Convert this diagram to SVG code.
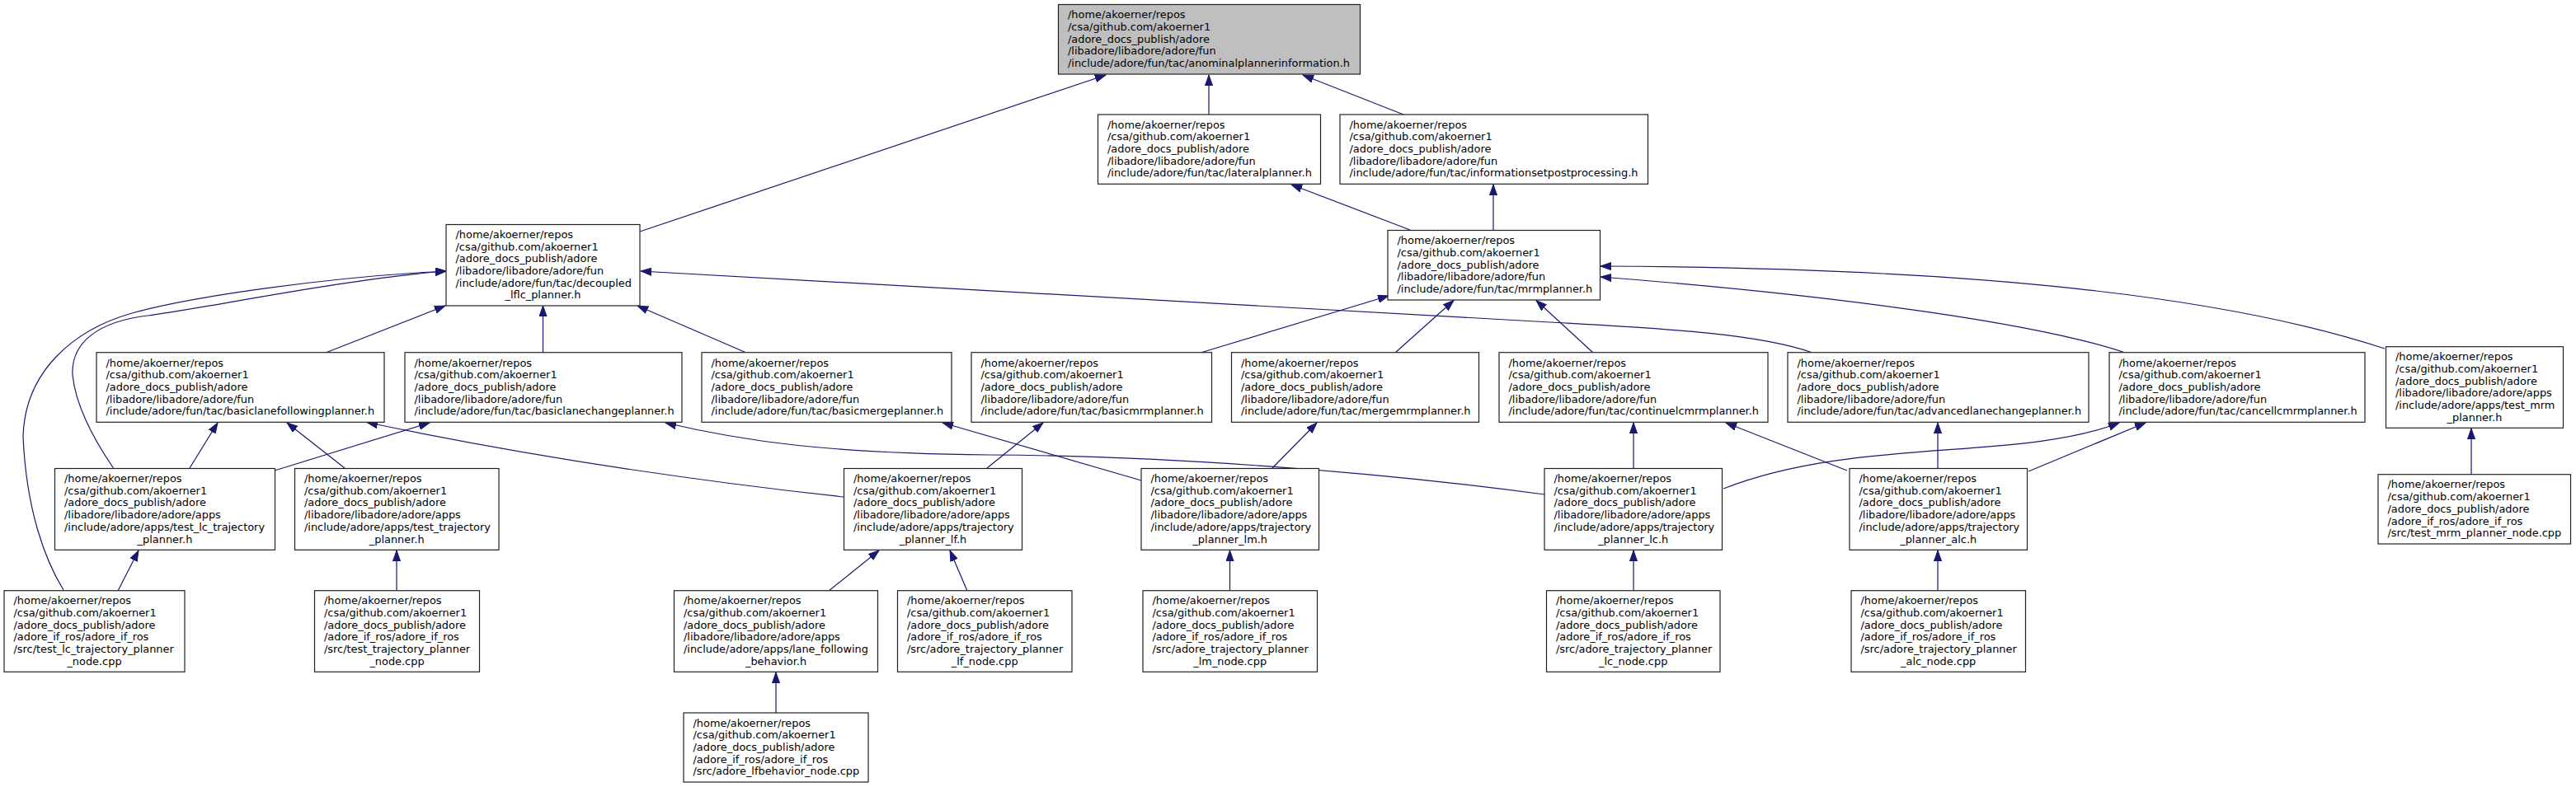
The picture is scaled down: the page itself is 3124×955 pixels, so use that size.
<svg xmlns="http://www.w3.org/2000/svg" width="3124" height="955" viewBox="0 0 3124 955">
<defs>
<style>
.nd rect{fill:#ffffff;stroke:#222;stroke-width:1.2}
.nd.root rect{fill:#bfbfbf}
.nd text{font-family:"DejaVu Sans","Liberation Sans",sans-serif;font-size:12.9px;fill:#000}
.c{text-anchor:middle}
#edges path{fill:none;stroke:#191970;stroke-width:1.2;marker-end:url(#ah)}
</style>
<marker id="ah" markerUnits="userSpaceOnUse" markerWidth="14" markerHeight="10" refX="13" refY="5" orient="auto">
<path d="M0,0.4 L13,5 L0,9.6 z" fill="#191970" stroke="#191970" stroke-width="1"/>
</marker>
</defs>
<rect x="0" y="0" width="3124" height="955" fill="#ffffff"/>
<g id="edges">
<path d="M776,281 L1341,91"/>
<path d="M1466,139 L1466,91"/>
<path d="M1702,139 L1580,91"/>
<path d="M1710,279 L1566,224"/>
<path d="M1811,279 L1811,224"/>
<path d="M395,428 L540,371"/>
<path d="M658.5,428 L658.5,371"/>
<path d="M905,428 L773,371"/>
<path d="M2198,428 C2130,404 2010,398.4 1880,391 L777,329"/>
<path d="M1456,428 L1684,359"/>
<path d="M1692,428 L1763,364.5"/>
<path d="M1932,428 L1863,364.5"/>
<path d="M2577,428 C2480,395 2250,360 1941,336"/>
<path d="M2892,423 C2700,360 2400,325 1941,323"/>
<path d="M137.5,568 C115,535 92,495 88,455 C86,415 120,390 179,383 C238,376 420,338 541,329"/>
<path d="M77,716 C55,680 32,620 28,530 C30,450 90,400 160,380 C230,360 400,336 541,329"/>
<path d="M230,568 L264,513"/>
<path d="M418,568 L348,513"/>
<path d="M333,571 L521,513"/>
<path d="M1023,603 Q720,570 445,512.5"/>
<path d="M1873,600 C1650,570 1400,553 1200,552 C1000,550 900,535 807,513"/>
<path d="M1384,583 L1143,513"/>
<path d="M1197,568 L1265,513"/>
<path d="M1543,568 L1597,513"/>
<path d="M1981,568 L1981,513"/>
<path d="M2240,571 L2093,513"/>
<path d="M2350,568 L2350,513"/>
<path d="M2090,593 C2250,530 2450,560 2570,513"/>
<path d="M2460,572 L2602,513"/>
<path d="M2997,576 L2997,520"/>
<path d="M143,717 L168,668"/>
<path d="M481,717 L481,668"/>
<path d="M1005,717 L1066,668"/>
<path d="M1173,717 L1152,668"/>
<path d="M1491.5,717 L1491.5,668"/>
<path d="M1981,717 L1981,668"/>
<path d="M2350,717 L2350,668"/>
<path d="M941,865 L941,816"/>
</g>

<g id="n0" class="nd root"><rect x="1283.5" y="5.5" width="366" height="84.5"/>
<text><tspan x="1295" y="22.2">/home/akoerner/repos</tspan><tspan x="1295" y="36.9">/csa/github.com/akoerner1</tspan><tspan x="1295" y="51.6">/adore_docs_publish/adore</tspan><tspan x="1295" y="66.3">/libadore/libadore/adore/fun</tspan><tspan x="1295" y="81">/include/adore/fun/tac/anominalplannerinformation.h</tspan></text></g>

<g id="n1" class="nd"><rect x="1331.5" y="139" width="270" height="84.3"/>
<text><tspan x="1343" y="155.6">/home/akoerner/repos</tspan><tspan x="1343" y="170.3">/csa/github.com/akoerner1</tspan><tspan x="1343" y="185">/adore_docs_publish/adore</tspan><tspan x="1343" y="199.7">/libadore/libadore/adore/fun</tspan><tspan x="1343" y="214.4">/include/adore/fun/tac/lateralplanner.h</tspan></text></g>

<g id="n2" class="nd"><rect x="1625" y="139" width="373.5" height="84.3"/>
<text><tspan x="1636.5" y="155.6">/home/akoerner/repos</tspan><tspan x="1636.5" y="170.3">/csa/github.com/akoerner1</tspan><tspan x="1636.5" y="185">/adore_docs_publish/adore</tspan><tspan x="1636.5" y="199.7">/libadore/libadore/adore/fun</tspan><tspan x="1636.5" y="214.4">/include/adore/fun/tac/informationsetpostprocessing.h</tspan></text></g>

<g id="n3" class="nd"><rect x="541" y="272.5" width="235" height="98.5"/>
<text><tspan x="552.5" y="288.8">/home/akoerner/repos</tspan><tspan x="552.5" y="303.5">/csa/github.com/akoerner1</tspan><tspan x="552.5" y="318.2">/adore_docs_publish/adore</tspan><tspan x="552.5" y="332.9">/libadore/libadore/adore/fun</tspan><tspan x="552.5" y="347.6">/include/adore/fun/tac/decoupled</tspan><tspan class="c" x="658.5" y="362.3">_lflc_planner.h</tspan></text></g>

<g id="n4" class="nd"><rect x="1683" y="279.5" width="257.5" height="84.5"/>
<text><tspan x="1694.5" y="296.2">/home/akoerner/repos</tspan><tspan x="1694.5" y="310.9">/csa/github.com/akoerner1</tspan><tspan x="1694.5" y="325.6">/adore_docs_publish/adore</tspan><tspan x="1694.5" y="340.3">/libadore/libadore/adore/fun</tspan><tspan x="1694.5" y="355">/include/adore/fun/tac/mrmplanner.h</tspan></text></g>

<g id="n5" class="nd"><rect x="117" y="427.7" width="349" height="84.6"/>
<text><tspan x="128.5" y="444.5">/home/akoerner/repos</tspan><tspan x="128.5" y="459.2">/csa/github.com/akoerner1</tspan><tspan x="128.5" y="473.9">/adore_docs_publish/adore</tspan><tspan x="128.5" y="488.6">/libadore/libadore/adore/fun</tspan><tspan x="128.5" y="503.3">/include/adore/fun/tac/basiclanefollowingplanner.h</tspan></text></g>

<g id="n6" class="nd"><rect x="491" y="427.7" width="336" height="84.6"/>
<text><tspan x="502.5" y="444.5">/home/akoerner/repos</tspan><tspan x="502.5" y="459.2">/csa/github.com/akoerner1</tspan><tspan x="502.5" y="473.9">/adore_docs_publish/adore</tspan><tspan x="502.5" y="488.6">/libadore/libadore/adore/fun</tspan><tspan x="502.5" y="503.3">/include/adore/fun/tac/basiclanechangeplanner.h</tspan></text></g>

<g id="n7" class="nd"><rect x="851" y="427.7" width="303" height="84.6"/>
<text><tspan x="862.5" y="444.5">/home/akoerner/repos</tspan><tspan x="862.5" y="459.2">/csa/github.com/akoerner1</tspan><tspan x="862.5" y="473.9">/adore_docs_publish/adore</tspan><tspan x="862.5" y="488.6">/libadore/libadore/adore/fun</tspan><tspan x="862.5" y="503.3">/include/adore/fun/tac/basicmergeplanner.h</tspan></text></g>

<g id="n8" class="nd"><rect x="1178" y="427.7" width="291.5" height="84.6"/>
<text><tspan x="1189.5" y="444.5">/home/akoerner/repos</tspan><tspan x="1189.5" y="459.2">/csa/github.com/akoerner1</tspan><tspan x="1189.5" y="473.9">/adore_docs_publish/adore</tspan><tspan x="1189.5" y="488.6">/libadore/libadore/adore/fun</tspan><tspan x="1189.5" y="503.3">/include/adore/fun/tac/basicmrmplanner.h</tspan></text></g>

<g id="n9" class="nd"><rect x="1493.5" y="427.7" width="300" height="84.6"/>
<text><tspan x="1505" y="444.5">/home/akoerner/repos</tspan><tspan x="1505" y="459.2">/csa/github.com/akoerner1</tspan><tspan x="1505" y="473.9">/adore_docs_publish/adore</tspan><tspan x="1505" y="488.6">/libadore/libadore/adore/fun</tspan><tspan x="1505" y="503.3">/include/adore/fun/tac/mergemrmplanner.h</tspan></text></g>

<g id="n10" class="nd"><rect x="1818" y="427.7" width="326" height="84.6"/>
<text><tspan x="1829.5" y="444.5">/home/akoerner/repos</tspan><tspan x="1829.5" y="459.2">/csa/github.com/akoerner1</tspan><tspan x="1829.5" y="473.9">/adore_docs_publish/adore</tspan><tspan x="1829.5" y="488.6">/libadore/libadore/adore/fun</tspan><tspan x="1829.5" y="503.3">/include/adore/fun/tac/continuelcmrmplanner.h</tspan></text></g>

<g id="n11" class="nd"><rect x="2168" y="427.7" width="365" height="84.6"/>
<text><tspan x="2179.5" y="444.5">/home/akoerner/repos</tspan><tspan x="2179.5" y="459.2">/csa/github.com/akoerner1</tspan><tspan x="2179.5" y="473.9">/adore_docs_publish/adore</tspan><tspan x="2179.5" y="488.6">/libadore/libadore/adore/fun</tspan><tspan x="2179.5" y="503.3">/include/adore/fun/tac/advancedlanechangeplanner.h</tspan></text></g>

<g id="n12" class="nd"><rect x="2558" y="427.7" width="310" height="84.6"/>
<text><tspan x="2569.5" y="444.5">/home/akoerner/repos</tspan><tspan x="2569.5" y="459.2">/csa/github.com/akoerner1</tspan><tspan x="2569.5" y="473.9">/adore_docs_publish/adore</tspan><tspan x="2569.5" y="488.6">/libadore/libadore/adore/fun</tspan><tspan x="2569.5" y="503.3">/include/adore/fun/tac/cancellcmrmplanner.h</tspan></text></g>

<g id="n13" class="nd"><rect x="2893.5" y="420.7" width="215" height="98.6"/>
<text><tspan x="2905" y="437.1">/home/akoerner/repos</tspan><tspan x="2905" y="451.8">/csa/github.com/akoerner1</tspan><tspan x="2905" y="466.5">/adore_docs_publish/adore</tspan><tspan x="2905" y="481.2">/libadore/libadore/adore/apps</tspan><tspan x="2905" y="495.9">/include/adore/apps/test_mrm</tspan><tspan class="c" x="3001" y="510.6">_planner.h</tspan></text></g>

<g id="n14" class="nd"><rect x="66.5" y="568.5" width="267" height="98.8"/>
<text><tspan x="78" y="585">/home/akoerner/repos</tspan><tspan x="78" y="599.7">/csa/github.com/akoerner1</tspan><tspan x="78" y="614.4">/adore_docs_publish/adore</tspan><tspan x="78" y="629.1">/libadore/libadore/adore/apps</tspan><tspan x="78" y="643.8">/include/adore/apps/test_lc_trajectory</tspan><tspan class="c" x="200" y="658.5">_planner.h</tspan></text></g>

<g id="n15" class="nd"><rect x="357.5" y="568.5" width="247.5" height="98.8"/>
<text><tspan x="369" y="585">/home/akoerner/repos</tspan><tspan x="369" y="599.7">/csa/github.com/akoerner1</tspan><tspan x="369" y="614.4">/adore_docs_publish/adore</tspan><tspan x="369" y="629.1">/libadore/libadore/adore/apps</tspan><tspan x="369" y="643.8">/include/adore/apps/test_trajectory</tspan><tspan class="c" x="481.2" y="658.5">_planner.h</tspan></text></g>

<g id="n16" class="nd"><rect x="1023.5" y="568.5" width="216" height="98.8"/>
<text><tspan x="1035" y="585">/home/akoerner/repos</tspan><tspan x="1035" y="599.7">/csa/github.com/akoerner1</tspan><tspan x="1035" y="614.4">/adore_docs_publish/adore</tspan><tspan x="1035" y="629.1">/libadore/libadore/adore/apps</tspan><tspan x="1035" y="643.8">/include/adore/apps/trajectory</tspan><tspan class="c" x="1131.5" y="658.5">_planner_lf.h</tspan></text></g>

<g id="n17" class="nd"><rect x="1384" y="568.5" width="215.5" height="98.8"/>
<text><tspan x="1395.5" y="585">/home/akoerner/repos</tspan><tspan x="1395.5" y="599.7">/csa/github.com/akoerner1</tspan><tspan x="1395.5" y="614.4">/adore_docs_publish/adore</tspan><tspan x="1395.5" y="629.1">/libadore/libadore/adore/apps</tspan><tspan x="1395.5" y="643.8">/include/adore/apps/trajectory</tspan><tspan class="c" x="1491.7" y="658.5">_planner_lm.h</tspan></text></g>

<g id="n18" class="nd"><rect x="1873" y="568.5" width="215.5" height="98.8"/>
<text><tspan x="1884.5" y="585">/home/akoerner/repos</tspan><tspan x="1884.5" y="599.7">/csa/github.com/akoerner1</tspan><tspan x="1884.5" y="614.4">/adore_docs_publish/adore</tspan><tspan x="1884.5" y="629.1">/libadore/libadore/adore/apps</tspan><tspan x="1884.5" y="643.8">/include/adore/apps/trajectory</tspan><tspan class="c" x="1980.7" y="658.5">_planner_lc.h</tspan></text></g>

<g id="n19" class="nd"><rect x="2243" y="568.5" width="215.5" height="98.8"/>
<text><tspan x="2254.5" y="585">/home/akoerner/repos</tspan><tspan x="2254.5" y="599.7">/csa/github.com/akoerner1</tspan><tspan x="2254.5" y="614.4">/adore_docs_publish/adore</tspan><tspan x="2254.5" y="629.1">/libadore/libadore/adore/apps</tspan><tspan x="2254.5" y="643.8">/include/adore/apps/trajectory</tspan><tspan class="c" x="2350.7" y="658.5">_planner_alc.h</tspan></text></g>

<g id="n20" class="nd"><rect x="2884" y="575.7" width="233.5" height="84.3"/>
<text><tspan x="2895.5" y="592.4">/home/akoerner/repos</tspan><tspan x="2895.5" y="607.1">/csa/github.com/akoerner1</tspan><tspan x="2895.5" y="621.8">/adore_docs_publish/adore</tspan><tspan x="2895.5" y="636.5">/adore_if_ros/adore_if_ros</tspan><tspan x="2895.5" y="651.2">/src/test_mrm_planner_node.cpp</tspan></text></g>

<g id="n21" class="nd"><rect x="5" y="716.7" width="219" height="98.6"/>
<text><tspan x="16.5" y="733.1">/home/akoerner/repos</tspan><tspan x="16.5" y="747.8">/csa/github.com/akoerner1</tspan><tspan x="16.5" y="762.5">/adore_docs_publish/adore</tspan><tspan x="16.5" y="777.2">/adore_if_ros/adore_if_ros</tspan><tspan x="16.5" y="791.9">/src/test_lc_trajectory_planner</tspan><tspan class="c" x="114.5" y="806.6">_node.cpp</tspan></text></g>

<g id="n22" class="nd"><rect x="381.5" y="716.7" width="200" height="98.6"/>
<text><tspan x="393" y="733.1">/home/akoerner/repos</tspan><tspan x="393" y="747.8">/csa/github.com/akoerner1</tspan><tspan x="393" y="762.5">/adore_docs_publish/adore</tspan><tspan x="393" y="777.2">/adore_if_ros/adore_if_ros</tspan><tspan x="393" y="791.9">/src/test_trajectory_planner</tspan><tspan class="c" x="481.5" y="806.6">_node.cpp</tspan></text></g>

<g id="n23" class="nd"><rect x="817.5" y="716.7" width="247" height="98.6"/>
<text><tspan x="829" y="733.1">/home/akoerner/repos</tspan><tspan x="829" y="747.8">/csa/github.com/akoerner1</tspan><tspan x="829" y="762.5">/adore_docs_publish/adore</tspan><tspan x="829" y="777.2">/libadore/libadore/adore/apps</tspan><tspan x="829" y="791.9">/include/adore/apps/lane_following</tspan><tspan class="c" x="941" y="806.6">_behavior.h</tspan></text></g>

<g id="n24" class="nd"><rect x="1088.5" y="716.7" width="211.5" height="98.6"/>
<text><tspan x="1100" y="733.1">/home/akoerner/repos</tspan><tspan x="1100" y="747.8">/csa/github.com/akoerner1</tspan><tspan x="1100" y="762.5">/adore_docs_publish/adore</tspan><tspan x="1100" y="777.2">/adore_if_ros/adore_if_ros</tspan><tspan x="1100" y="791.9">/src/adore_trajectory_planner</tspan><tspan class="c" x="1194.2" y="806.6">_lf_node.cpp</tspan></text></g>

<g id="n25" class="nd"><rect x="1386" y="716.7" width="211.5" height="98.6"/>
<text><tspan x="1397.5" y="733.1">/home/akoerner/repos</tspan><tspan x="1397.5" y="747.8">/csa/github.com/akoerner1</tspan><tspan x="1397.5" y="762.5">/adore_docs_publish/adore</tspan><tspan x="1397.5" y="777.2">/adore_if_ros/adore_if_ros</tspan><tspan x="1397.5" y="791.9">/src/adore_trajectory_planner</tspan><tspan class="c" x="1491.7" y="806.6">_lm_node.cpp</tspan></text></g>

<g id="n26" class="nd"><rect x="1875.5" y="716.7" width="210.5" height="98.6"/>
<text><tspan x="1887" y="733.1">/home/akoerner/repos</tspan><tspan x="1887" y="747.8">/csa/github.com/akoerner1</tspan><tspan x="1887" y="762.5">/adore_docs_publish/adore</tspan><tspan x="1887" y="777.2">/adore_if_ros/adore_if_ros</tspan><tspan x="1887" y="791.9">/src/adore_trajectory_planner</tspan><tspan class="c" x="1980.7" y="806.6">_lc_node.cpp</tspan></text></g>

<g id="n27" class="nd"><rect x="2245" y="716.7" width="211.5" height="98.6"/>
<text><tspan x="2256.5" y="733.1">/home/akoerner/repos</tspan><tspan x="2256.5" y="747.8">/csa/github.com/akoerner1</tspan><tspan x="2256.5" y="762.5">/adore_docs_publish/adore</tspan><tspan x="2256.5" y="777.2">/adore_if_ros/adore_if_ros</tspan><tspan x="2256.5" y="791.9">/src/adore_trajectory_planner</tspan><tspan class="c" x="2350.7" y="806.6">_alc_node.cpp</tspan></text></g>

<g id="n28" class="nd"><rect x="829" y="865" width="224" height="84"/>
<text><tspan x="840.5" y="881.5">/home/akoerner/repos</tspan><tspan x="840.5" y="896.2">/csa/github.com/akoerner1</tspan><tspan x="840.5" y="910.9">/adore_docs_publish/adore</tspan><tspan x="840.5" y="925.6">/adore_if_ros/adore_if_ros</tspan><tspan x="840.5" y="940.3">/src/adore_lfbehavior_node.cpp</tspan></text></g>
</svg>
